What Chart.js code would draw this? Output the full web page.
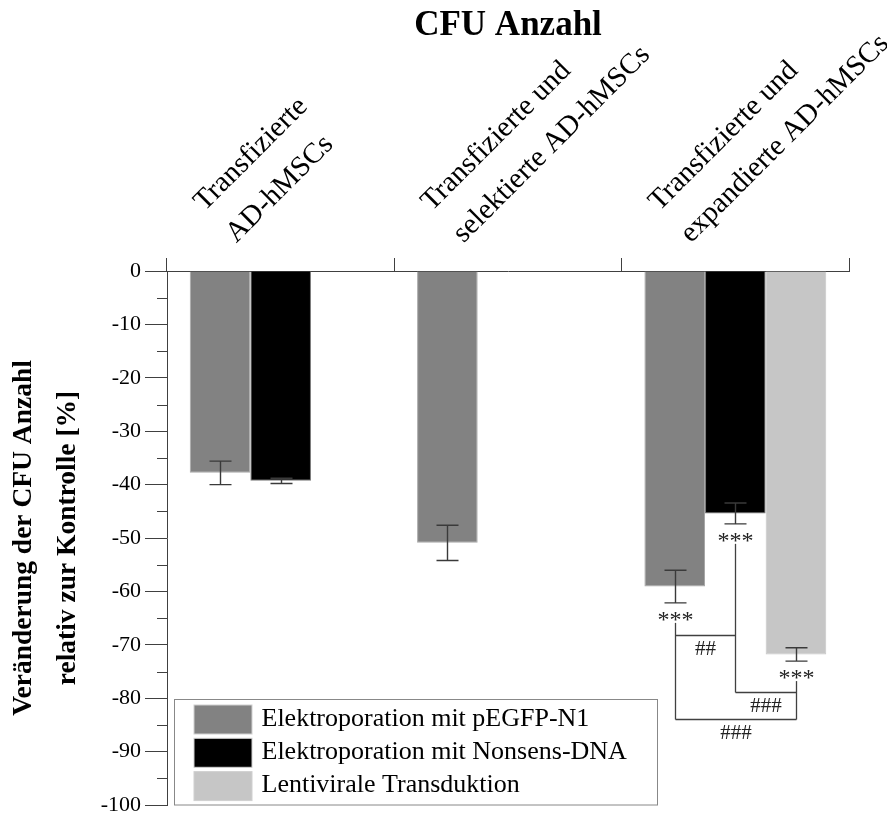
<!DOCTYPE html>
<html>
<head>
<meta charset="utf-8">
<script src="https://cdn.jsdelivr.net/npm/chart.js@4/dist/chart.umd.min.js"></script>
<style>
  html, body { margin: 0; padding: 0; background: #fff; }
  canvas { display: block; }
</style>
</head>
<body>
<canvas id="chart" width="887" height="815"></canvas>
<script>
// Categories (multi-line axis labels)
const categories = [
  ["Transfizierte", "AD-hMSCs"],
  ["Transfizierte und", "selektierte AD-hMSCs"],
  ["Transfizierte und", "expandierte AD-hMSCs"]
];
const seriesNames = [
  "Elektroporation mit pEGFP-N1",
  "Elektroporation mit Nonsens-DNA",
  "Lentivirale Transduktion"
];

// Change of CFU count relative to control [%]
const pegfpValues    = [-37.8, -50.9, -59.1];
const nonsensValues  = [-39.3, null, -45.4];
const lentiValues    = [null, null, -71.8];

// Error bar half-widths
const pegfpErrors    = [2.2, 3.3, 3.05];
const nonsensErrors  = [0.5, null, 1.95];
const lentiErrors    = [null, null, 1.25];

// Y axis range and tick step
const yMin = -100, yMax = 0, yStep = 10;

// Significance: stars under the bars of one category, brackets between series
const starCategory = 2;
const starSeries = [0, 1, 2];
const starText = "***";
const bracketFrom   = [0, 1, 0];
const bracketTo     = [1, 2, 2];
const bracketLevels = [-68.2, -78.9, -83.9];
const bracketLabels = ["##", "###", "###"];

const seriesColors  = ["#828282", "#000000", "#c6c6c6"];
const seriesBorders = ["#a8a8a8", "#7a7a7a", "#c6c6c6"];

const SERIF = "'Liberation Serif', 'Times New Roman', serif";
const AXIS_COLOR = "#404040";

const allErrors = [pegfpErrors, nonsensErrors, lentiErrors];
const allValues = [pegfpValues, nonsensValues, lentiValues];

function errBottomPixel(chart, ds, idx) {
  const y = chart.scales.y;
  const v = allValues[ds][idx], e = allErrors[ds][idx] || 0;
  return y.getPixelForValue(v - e);
}

// Short minor ticks halfway between labelled ticks
const minorTicks = {
  id: "minorTicks",
  afterDraw(chart) {
    const y = chart.scales.y, ctx = chart.ctx;
    ctx.save();
    ctx.strokeStyle = AXIS_COLOR;
    ctx.lineWidth = 1;
    for (let v = yMax - yStep / 2; v > yMin; v -= yStep) {
      const py = Math.round(y.getPixelForValue(v)) + 0.5;
      ctx.beginPath();
      ctx.moveTo(y.right - 10, py);
      ctx.lineTo(y.right, py);
      ctx.stroke();
    }
    ctx.restore();
  }
};

// Error bars with caps
const errorBars = {
  id: "errorBars",
  afterDatasetsDraw(chart) {
    const ctx = chart.ctx, y = chart.scales.y;
    ctx.save();
    ctx.strokeStyle = "#3a3a3a";
    ctx.lineWidth = 1.4;
    chart.data.datasets.forEach((ds, di) => {
      const meta = chart.getDatasetMeta(di);
      meta.data.forEach((bar, i) => {
        const v = allValues[di][i], e = allErrors[di][i];
        if (v == null || e == null) return;
        const x = Math.round(bar.x) + 0.5;
        const y1 = y.getPixelForValue(v + e), y2 = y.getPixelForValue(v - e);
        const cap = 11;
        ctx.beginPath();
        ctx.moveTo(x, y1); ctx.lineTo(x, y2);
        ctx.moveTo(x - cap, y1); ctx.lineTo(x + cap, y1);
        ctx.moveTo(x - cap, y2); ctx.lineTo(x + cap, y2);
        ctx.stroke();
      });
    });
    ctx.restore();
  }
};

// Stars and comparison brackets
const significance = {
  id: "significance",
  afterDatasetsDraw(chart) {
    const ctx = chart.ctx, y = chart.scales.y;
    const barX = (di) => Math.round(chart.getDatasetMeta(di).data[starCategory].x) + 0.5;
    ctx.save();
    ctx.fillStyle = "#222";
    ctx.font = "24px " + SERIF;
    ctx.textAlign = "center";
    ctx.textBaseline = "alphabetic";
    starSeries.forEach(di => {
      ctx.fillText(starText, barX(di), errBottomPixel(chart, di, starCategory) + 24);
    });

    // vertical drop lines from each series down to its lowest bracket
    ctx.strokeStyle = AXIS_COLOR;
    ctx.lineWidth = 1.3;
    starSeries.forEach(di => {
      let lowest = null;
      bracketLevels.forEach((lv, k) => {
        if (bracketFrom[k] === di || bracketTo[k] === di) {
          if (lowest === null || lv < lowest) lowest = lv;
        }
      });
      if (lowest === null) return;
      const x = barX(di);
      ctx.beginPath();
      ctx.moveTo(x, errBottomPixel(chart, di, starCategory) + 20);
      ctx.lineTo(x, Math.round(y.getPixelForValue(lowest)) + 0.5);
      ctx.stroke();
    });

    ctx.font = "21px " + SERIF;
    bracketLevels.forEach((lv, k) => {
      const x1 = barX(bracketFrom[k]), x2 = barX(bracketTo[k]);
      const py = Math.round(y.getPixelForValue(lv)) + 0.5;
      ctx.beginPath();
      ctx.moveTo(x1, py); ctx.lineTo(x2, py);
      ctx.stroke();
      ctx.fillText(bracketLabels[k], (x1 + x2) / 2, py + 19);
    });
    ctx.restore();
  }
};

// Boxed legend inside the plot area
const boxLegend = {
  id: "boxLegend",
  afterDraw(chart) {
    const ctx = chart.ctx, area = chart.chartArea;
    const left = area.left + 7.5, right = 657.5, bottom = area.bottom, top = 699.5;
    ctx.save();
    ctx.fillStyle = "#fff";
    ctx.fillRect(left, top, right - left, bottom - top);
    ctx.strokeStyle = "#888";
    ctx.lineWidth = 1;
    ctx.strokeRect(left, top, right - left, bottom - top);
    ctx.font = "26px " + SERIF;
    ctx.textAlign = "left";
    ctx.textBaseline = "alphabetic";
    chart.data.datasets.forEach((ds, i) => {
      const sy = top + 5.5 + i * 33.3;
      ctx.fillStyle = ds.backgroundColor;
      ctx.fillRect(left + 19.5, sy, 58, 29);
      ctx.strokeStyle = "#d0d0d0";
      ctx.strokeRect(left + 19.5, sy, 58, 29);
      ctx.fillStyle = "#000";
      ctx.fillText(ds.label, left + 87, sy + 20.5);
    });
    ctx.restore();
  }
};

const datasets = allValues.map((vals, i) => ({
  label: seriesNames[i],
  data: vals,
  backgroundColor: seriesColors[i],
  borderColor: seriesBorders[i],
  borderWidth: 1,
  categoryPercentage: 0.8,
  barPercentage: 1.0
}));

new Chart(document.getElementById("chart"), {
  type: "bar",
  data: { labels: categories, datasets },
  plugins: [minorTicks, errorBars, significance, boxLegend],
  options: {
    responsive: false,
    animation: false,
    devicePixelRatio: 1,
    layout: { padding: { left: 0, right: 38, top: 0, bottom: 10 } },
    plugins: {
      legend: { display: false },
      tooltip: { enabled: false },
      title: { display: false }
    },
    scales: {
      x: {
        position: "top",
        offset: true,
        grid: {
          display: true,
          drawOnChartArea: false,
          drawTicks: true,
          tickLength: 13,
          color: AXIS_COLOR,
          offset: true
        },
        border: { display: true, color: AXIS_COLOR, width: 1 },
        title: {
          display: true,
          text: "CFU Anzahl",
          color: "#000",
          font: { family: SERIF, size: 35, weight: "bold", lineHeight: 1.2 },
          padding: { top: 5, bottom: 0 }
        },
        ticks: {
          autoSkip: false,
          minRotation: 45,
          maxRotation: 45,
          labelOffset: -18,
          padding: 4,
          color: "#000",
          font: { family: SERIF, size: 29, lineHeight: 1.55 }
        },
        afterFit(scale) {
          scale.height = 271;
          scale.paddingLeft = 0;
          scale.paddingRight = 0;
        }
      },
      y: {
        min: yMin,
        max: yMax,
        grid: {
          display: true,
          drawOnChartArea: false,
          drawTicks: true,
          tickLength: 22,
          color: AXIS_COLOR
        },
        border: { display: true, color: AXIS_COLOR, width: 1 },
        ticks: {
          stepSize: yStep,
          padding: 4,
          color: "#000",
          font: { family: SERIF, size: 22 },
          callback: (v) => String(v)
        },
        title: {
          display: true,
          text: ["Veränderung der CFU Anzahl", "relativ zur Kontrolle [%]"],
          color: "#000",
          font: { family: SERIF, size: 27.5, weight: "bold", lineHeight: 1.6 },
          padding: { top: 2, bottom: 0 }
        },
        afterFit(scale) {
          scale.width = 167;
          scale.paddingTop = 0;
          scale.paddingBottom = 0;
        }
      }
    }
  }
});
</script>
</body>
</html>
